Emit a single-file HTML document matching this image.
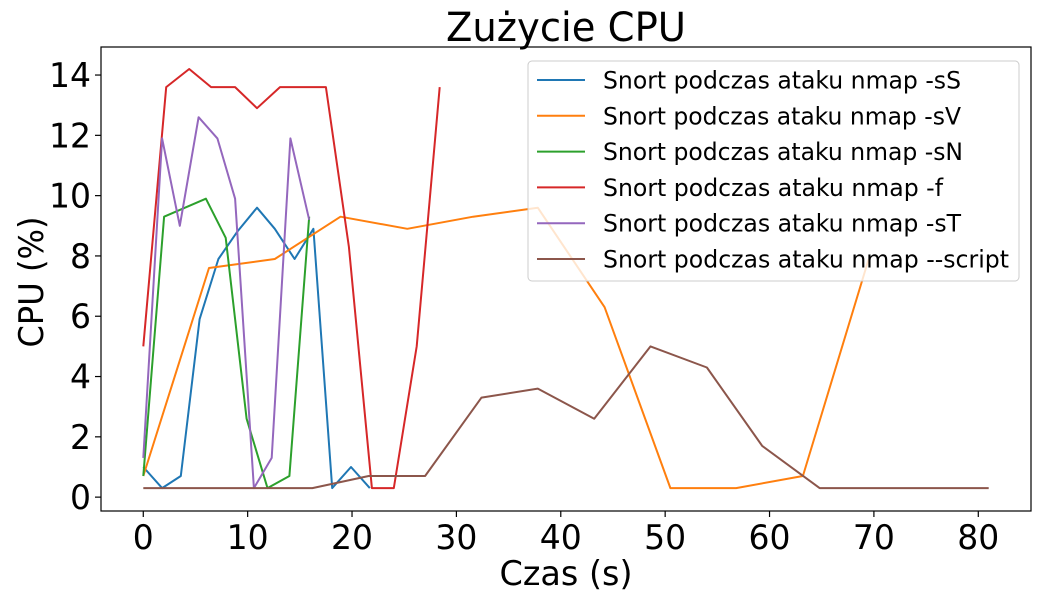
<!DOCTYPE html>
<html><head><meta charset="utf-8"><style>
html,body{margin:0;padding:0;background:#fff;}
svg{display:block;font-family:"DejaVu Sans","Liberation Sans",sans-serif;}
</style></head><body>
<svg id="chart" width="1040" height="601" viewBox="0 0 1040 601">
<rect x="0" y="0" width="1040" height="601" fill="#fff"/>
<text x="566" y="41" font-size="40" text-anchor="middle" textLength="240" lengthAdjust="spacingAndGlyphs">Zużycie CPU</text>
<g id="plot"></g>
<text x="566" y="585" font-size="34" text-anchor="middle" textLength="133" lengthAdjust="spacingAndGlyphs">Czas (s)</text>
<text transform="translate(43,282) rotate(-90)" font-size="34" text-anchor="middle" textLength="131" lengthAdjust="spacingAndGlyphs">CPU (%)</text>
</svg>
<script>
const xTicks = [0,10,20,30,40,50,60,70,80];
const yTicks = [0,2,4,6,8,10,12,14];
const seriesNames = ["Snort podczas ataku nmap -sS","Snort podczas ataku nmap -sV","Snort podczas ataku nmap -sN","Snort podczas ataku nmap -f","Snort podczas ataku nmap -sT","Snort podczas ataku nmap --script"];
const sSx = [0,1.8,3.6,5.4,7.2,9.0,10.9,12.6,14.5,16.3,18.1,19.9,21.7];
const sSy = [1.0,0.3,0.7,5.9,7.9,8.8,9.6,8.9,7.9,8.9,0.3,1.0,0.3];
const sVx = [0,6.3,12.6,18.9,25.3,31.6,37.8,44.2,50.5,56.8,63.2,69.5];
const sVy = [0.7,7.6,7.9,9.3,8.9,9.3,9.6,6.3,0.3,0.3,0.7,7.9];
const sNx = [0,2.0,4.0,6.0,7.9,9.9,11.9,14.0,15.9];
const sNy = [0.7,9.3,9.6,9.9,8.6,2.6,0.3,0.7,9.3];
const fx = [0,2.2,4.4,6.5,8.8,10.9,13.1,15.3,17.5,19.7,21.9,24.0,26.2,28.4];
const fy = [5.0,13.6,14.2,13.6,13.6,12.9,13.6,13.6,13.6,8.3,0.3,0.3,5.0,13.6];
const sTx = [0,1.8,3.5,5.3,7.1,8.8,10.6,12.3,14.1,15.9];
const sTy = [1.3,11.9,9.0,12.6,11.9,9.9,0.3,1.3,11.9,9.2];
const scx = [0,5.4,10.8,16.2,21.6,27.0,32.4,37.8,43.2,48.6,54.0,59.3,64.8,70.2,75.6,81.0];
const scy = [0.3,0.3,0.3,0.3,0.7,0.7,3.3,3.6,2.6,5.0,4.3,1.7,0.3,0.3,0.3,0.3];

const colors = ["#1f77b4","#ff7f0e","#2ca02c","#d62728","#9467bd","#8c564b"];
const keys = ["ss","sv","sn","f","st","script"];
const allX = [sSx,sVx,sNx,fx,sTx,scx];
const allY = [sSy,sVy,sNy,fy,sTy,scy];

const L=101,R=1031,T=47,B=511;
const xMin=-4.05,xMax=85.05,yMin=-0.46,yMax=14.93;
function sx(v){return L+(v-xMin)/(xMax-xMin)*(R-L);}
function sy(v){return B-(v-yMin)/(yMax-yMin)*(B-T);}

const NS="http://www.w3.org/2000/svg";
const g=document.getElementById('plot');
function mk(tag,attrs,parent){const e=document.createElementNS(NS,tag);for(const k in attrs)e.setAttribute(k,attrs[k]);(parent||g).appendChild(e);return e;}

for(let s=0;s<6;s++){
  const pts=allX[s].map((x,i)=>sx(x).toFixed(1)+","+sy(allY[s][i]).toFixed(1)).join(" ");
  const pl=mk('polyline',{points:pts,fill:"none",stroke:colors[s],"stroke-width":2,"stroke-linejoin":"round"});
  
  
}
const fr=mk('rect',{x:L,y:T,width:R-L,height:B-T,fill:"none",stroke:"#000","stroke-width":1.2});


xTicks.forEach(v=>{
  const x=sx(v);
  const t=mk('line',{x1:x,y1:B,x2:x,y2:B+6,stroke:"#000","stroke-width":1.2});
  
  
  const s=String(v);
  const lb=mk('text',{x:x,y:B+38,"font-size":34,"text-anchor":"middle",textLength:s.length*21,lengthAdjust:"spacingAndGlyphs"});
  lb.textContent=s;
  
  
});
yTicks.forEach(v=>{
  const y=sy(v);
  const t=mk('line',{x1:L-6,y1:y,x2:L,y2:y,stroke:"#000","stroke-width":1.2});
  
  
  const s=String(v);
  const lb=mk('text',{x:L-10,y:y+12,"font-size":34,"text-anchor":"end",textLength:s.length*21,lengthAdjust:"spacingAndGlyphs"});
  lb.textContent=s;
  
  
});
const lg=mk('g',{});


mk('rect',{x:528,y:61,width:491,height:220,rx:4,fill:"#fff","fill-opacity":0.8,stroke:"#ccc","stroke-width":1},lg);
const lens=[358,358,360,340,358,406];
for(let s=0;s<6;s++){
  const y=80+s*35.8;
  const row=mk('g',{},lg);
  
  
  mk('line',{x1:537,y1:y,x2:585,y2:y,stroke:colors[s],"stroke-width":2},row);
  const tx=mk('text',{x:603,y:y+8.5,"font-size":24,textLength:lens[s],lengthAdjust:"spacingAndGlyphs"},row);
  tx.textContent=seriesNames[s];
}
</script>
</body></html>
